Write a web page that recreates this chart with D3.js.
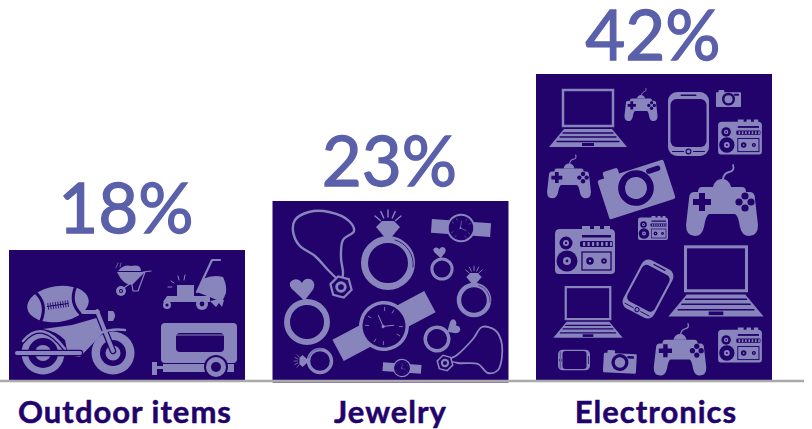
<!DOCTYPE html>
<html>
<head>
<meta charset="utf-8">
<style>
  html, body { margin: 0; padding: 0; background: #fff; }
  svg { display: block; }
</style>
<script src="https://cdn.jsdelivr.net/npm/d3@7"></script>
</head>
<body>
<svg id="chart" width="812" height="429"></svg>
<script>
// values
const categories = ["Outdoor items", "Jewelry", "Electronics"]
const shareLabels = ["18%", "23%", "42%"]
// drawn bar tops are not quite proportional to the printed shares
const barLevels = [17.84, 24.57, 42]
const barFloors = [0, -0.35, 0]

const LIGHT = "#8885bd", DARK = "#22026b", NUMBER = "#5a60aa", RULE = "#aaaaaa"

const svg = d3.select("#chart")

const x = d3.scaleBand().domain(categories).range([9, 772]).paddingInner(0.1044)
const y = d3.scaleLinear().domain([0, 42]).range([380, 74])

// bars
svg.append("g").selectAll("rect")
  .data(categories)
  .join("rect")
  .attr("x", d => x(d))
  .attr("width", x.bandwidth())
  .attr("y", (d, i) => y(barLevels[i]))
  .attr("height", (d, i) => y(barFloors[i]) - y(barLevels[i]))
  .attr("fill", DARK)

// small drawing helpers, c is the fill or stroke colour
const shape = (g, tag, attrs, c) => {
  const el = g.append(tag)
  Object.entries(attrs).forEach(([k, v]) => el.attr(k, v))
  if (!attrs.stroke && !attrs["stroke-width"]) el.attr("fill", c || LIGHT)
  else el.attr("fill", "none").attr("stroke", c || LIGHT)
  return el
}
const dot = (g, cx, cy, r, c) => shape(g, "circle", { cx, cy, r }, c)
const box = (g, x0, y0, w, h, rx, c) => shape(g, "rect", { x: x0, y: y0, width: w, height: h, rx }, c)
const path = (g, d, c) => shape(g, "path", { d }, c)
const stroke = (g, d, sw, c) => shape(g, "path", { d, "stroke-width": sw, "stroke-linecap": "round", "stroke-linejoin": "round" }, c)

const rays = (g, cx, cy, r0, r1, sw) => {
  d3.range(-50, 51, 25).forEach(a => {
    const t = (a - 90) * Math.PI / 180
    stroke(g, `M${cx + r0 * Math.cos(t)},${cy + r0 * Math.sin(t)}L${cx + r1 * Math.cos(t)},${cy + r1 * Math.sin(t)}`, sw)
  })
}

const icons = {
  football(g) {
    shape(g, "ellipse", { rx: 31, ry: 18 })
    stroke(g, "M-21,-15Q-10,-2 -19,14", 3, DARK)
    stroke(g, "M20,-15Q11,0 21,13", 3, DARK)
    stroke(g, "M-11,1H10", 1, DARK)
    d3.range(-10, 11, 2.5).forEach(t => stroke(g, `M${t},-2V4`, 0.8, DARK))
  },
  barrow(g) {
    path(g, "M-16,-8H12L-1,5Q-10,5 -16,-8Z")
    path(g, "M-15,-9Q-9,-16 -2,-14Q8,-16 8,-9Z")
    stroke(g, "M10,-8L18,-9M12,-8L5,11H0L-1,5M-2,3L-12,10", 1.2)
    stroke(g, "M-17,-12L-15,-17M-13,-13L-12,-17", 0.7)
    dot(g, -12, 11, 5)
    dot(g, -12, 11, 2, DARK)
    dot(g, -12, 11, 1)
  },
  mower(g) {
    path(g, "M4,7L10,-6Q20,-11 30,-8Q34,0 33,8L29,17L19,13Z")
    stroke(g, "M4,7L19,-25H27", 2.2)
    box(g, -16, 0, 17, 12, 0)
    path(g, "M-30,17L-26,11H17V17Z")
    dot(g, -26, 20, 4)
    dot(g, -26, 20, 1.6, DARK)
    dot(g, 9, 19, 6)
    dot(g, 9, 19, 2.4, DARK)
    stroke(g, "M-19,-2L-22,-4M-21,2L-25,2M-14,-5L-15,-9M-9,-5L-8,-10", 1)
    path(g, "M17,16L26,14L31,15L29,22L26,18L23,22Z")
  },
  motorbike(g) {
    dot(g, -33, 11, 21.5)
    dot(g, -33, 11, 15, DARK)
    dot(g, -33, 11, 8)
    dot(g, 37, 11, 21.5)
    dot(g, 37, 11, 13, DARK)
    dot(g, 37, 11, 7.5)
    stroke(g, "M-53,-1Q-34,-24 -11,7", 5, DARK)
    stroke(g, "M-53,-1Q-34,-24 -11,7", 2.5)
    path(g, "M-33,-13L-4,-17L24,-25L27,-9L4,15L-8,13L-11,-2Q-20,-11 -33,-13Z")
    stroke(g, "M-59,11H4", 6.5, DARK)
    stroke(g, "M-59,11H4", 4)
    stroke(g, "M21,-31L37,9", 6.5, DARK)
    stroke(g, "M21,-31L37,9", 4)
    stroke(g, "M7,-30H22", 4)
    stroke(g, "M24,-9Q36,-14 49,-12", 2.5)
    path(g, "M32,-31H37Q41,-27 37,-21H32Z")
  },
  trailer(g) {
    box(g, -33, -27, 76, 40, 4)
    box(g, -18, -17, 48, 19, 4, DARK)
    stroke(g, "M-18,-15H30", 1)
    box(g, -31, 14, 71, 8, 0)
    box(g, -42, 12, 5, 13, 0)
    box(g, -38, 16, 8, 3, 0)
    dot(g, 22, 17, 12, DARK)
    dot(g, 22, 17, 10)
    dot(g, 22, 17, 5, DARK)
  },
  diamondRing(g) {
    shape(g, "circle", { r: 23.5, "stroke-width": 7 })
    path(g, "M-6,-42H6L12,-36L2,-24H-2L-12,-36Z")
    stroke(g, "M7,-23A25,25 0 0 1 25,4", 0.8, DARK)
    rays(g, 0, -36, 10, 17, 1.4)
  },
  heartRing(g) {
    shape(g, "circle", { r: 23.5, "stroke-width": 7 })
    path(g, "M-3,-25L-18,-39Q-24,-47 -15,-50Q-9,-51 -6,-46Q-2,-53 5,-50Q11,-46 7,-38Z")
  },
  watch(g) {
    box(g, -52, -12, 104, 24, 0)
    dot(g, 0, 0, 25)
    dot(g, 0, 0, 21.5, DARK)
    d3.range(0, 360, 30).forEach(a => {
      if (a % 90 === 0) return
      g.append("path").attr("d", "M0,-19V-15").attr("stroke", LIGHT).attr("stroke-width", 0.8)
        .attr("transform", `rotate(${a})`)
    })
    stroke(g, "M0,-12L-1,0L9,4", 1)
    dot(g, -1, 0, 1.6)
  },
  laptop(g) {
    shape(g, "rect", { x: -25, y: -28, width: 50, height: 36, "stroke-width": 2.5 })
    path(g, "M-24,11H24L39,29H-39Z")
    stroke(g, "M-25,15H25M-28,19H28M-31,23.5H31", 1.3, DARK)
    box(g, -6, 25, 12, 3, 0, DARK)
  },
  phone(g) {
    box(g, -20.5, -32, 41, 64, 9)
    box(g, -18, -25, 36, 48, 6, DARK)
    box(g, -8, -29.5, 16, 1.5, 0.7, DARK)
    dot(g, 0, 27.5, 3, DARK)
    dot(g, 0, 27.5, 1.8)
    stroke(g, "M-16,27.5H-5M5,27.5H16", 1, DARK)
  },
  gamepad(g) {
    stroke(g, "M11,-36Q13,-30 7,-29Q2,-28 1,-22", 1.8)
    path(g, "M-9,-14Q-7,-22 0,-22Q7,-22 9,-14Z")
    path(g, "M-20,-14H20Q24,-14 24,-9H28Q33,-9 33,-2L36,24Q36,35 27,35Q20,35 18,26Q16,14 13,13H-13Q-16,14 -18,26Q-20,35 -27,35Q-36,35 -36,24L-33,-2Q-33,-9 -28,-9H-24Q-24,-14 -20,-14Z")
    path(g, "M-23,-8H-17V-2H-11V4H-17V10H-23V4H-29V-2H-23Z", DARK)
    dot(g, 23, -5, 3.6, DARK)
    dot(g, 23, 7, 3.6, DARK)
    dot(g, 17, 1, 3.6, DARK)
    dot(g, 29, 1, 3.6, DARK)
  },
  camera(g) {
    path(g, "M-33,-13Q-33,-15 -31,-15H-26V-19Q-26,-21 -24,-21H-13Q-11,-21 -11,-19V-15H31Q33,-15 33,-13V22Q33,24 31,24H-31Q-33,24 -33,22Z")
    dot(g, 0, 3, 17, DARK)
    dot(g, 0, 3, 10.5)
    box(g, 14, -11, 14, 5, 2.5, DARK)
  },
  radio(g) {
    path(g, "M-30,-16Q-30,-21 -25,-21H-3V-24H5V-21H9V-24H15V-21H19V-24H25V-21Q30,-21 30,-16V20Q30,24 26,24H-26Q-30,24 -30,20Z")
    dot(g, -19, -7, 6.5, DARK)
    dot(g, -19, -7, 3)
    dot(g, -19, -7, 1.2, DARK)
    dot(g, -18, 11, 10.5, DARK)
    dot(g, -18, 11, 4)
    dot(g, -18, 11, 1.4, DARK)
    box(g, -3, -15, 29, 2.5, 0, DARK)
    box(g, -5, -9, 33, 6, 1.5, DARK)
    d3.range(-2, 27, 4.5).forEach(t => box(g, t, -8, 2.2, 4, 0.6))
    shape(g, "rect", { x: -3, y: 2, width: 29, height: 18, "stroke-width": 1.3 }, DARK)
    dot(g, 5, 11, 3.8, DARK)
    dot(g, 5, 11, 1.2)
    dot(g, 19, 11, 2.8, DARK)
    dot(g, 19, 11, 0.9)
  }
}

function hexNut(g, r) {
  const pts = d3.range(6).map(i => {
    const t = (i * 60 + 15) * Math.PI / 180
    return [r * Math.cos(t), r * Math.sin(t)]
  })
  g.append("path").attr("d", d3.line()(pts) + "Z")
    .attr("fill", DARK).attr("stroke", LIGHT).attr("stroke-width", r * 0.2)
  dot(g, 0, 0, r * 0.52)
  dot(g, 0, 0, r * 0.26, DARK)
}

// where the pictures sit on the bars: name, x, y, scale, rotation
const iconLayout = [
  ["football", 58, 304, 1, -8],
  ["barrow", 133, 280, 1, 0],
  ["mower", 193, 285, 1, 0],
  ["motorbike", 76, 342, 1, 0],
  ["trailer", 194, 350, 1, 0],

  ["diamondRing", 388, 263, 1, 0],
  ["diamondRing", 474, 300, 0.64, 0],
  ["diamondRing", 320, 361, 0.49, -90],
  ["heartRing", 307, 322, 0.85, 0],
  ["heartRing", 442, 269, 0.43, 0],
  ["heartRing", 437, 339, 0.5, 62],
  ["watch", 384, 326, 1, -28],
  ["watch", 461, 228, 0.57, 4],
  ["watch", 402, 368, 0.37, 4],

  ["laptop", 588, 118, 1, 0],
  ["laptop", 716, 281, 1.22, 0],
  ["laptop", 588, 312, 0.89, 0],
  ["phone", 688.5, 124, 1, 0],
  ["phone", 648, 289, 0.85, 28],
  ["phone", 574, 360, 0.5, 90],
  ["gamepad", 722, 201, 1, 0],
  ["gamepad", 641, 105, 0.46, 0],
  ["gamepad", 569, 177, 0.61, 0],
  ["gamepad", 680, 350, 0.73, 0],
  ["camera", 635, 185, 1.05, -18],
  ["camera", 728.5, 98, 0.38, 0],
  ["camera", 620, 361, 0.5, 3],
  ["radio", 740, 137, 0.73, 0],
  ["radio", 585, 250, 1, 0],
  ["radio", 653, 228, 0.5, 0],
  ["radio", 740, 345, 0.73, 0]
]

const iconLayer = svg.append("g")

// necklaces go straight on the page, chain first then the nut
const chainCurve = d3.line().curve(d3.curveCatmullRomClosed.alpha(0.5))
const necklaces = [
  { at: [341, 287], r: 11, sw: 2.4, chain: [[0, -6], [2, -14], [0, -29], [2, -47], [13, -56], [8, -66], [-12, -75], [-32, -75], [-46, -67], [-48, -56], [-42, -42], [-26, -31], [-12, -16]] },
  { at: [445, 363], r: 8, sw: 1.8, chain: [[4, -3], [12, -8], [28, -24], [37, -36], [50, -33], [57, -18], [53, 7], [43, 10], [33, 1], [13, 0]] }
]
necklaces.forEach(n => {
  const g = iconLayer.append("g").attr("transform", `translate(${n.at})`)
  stroke(g, chainCurve(n.chain), n.sw)
  hexNut(g, n.r)
})

iconLayout.forEach(([name, px, py, s, r]) => {
  const g = iconLayer.append("g").attr("transform", `translate(${px},${py}) rotate(${r}) scale(${s})`)
  icons[name](g)
})

// floor rule goes over the bars
svg.append("line")
  .attr("x1", 0).attr("x2", 804)
  .attr("y1", 381).attr("y2", 381)
  .attr("stroke", RULE).attr("stroke-width", 2.4)

// big percent figures above each bar
const numberLift = [17, 15, 14]
svg.append("g").selectAll("text")
  .data(shareLabels)
  .join("text")
  .attr("x", (d, i) => x(categories[i]) + x.bandwidth() / 2 - 1)
  .attr("y", (d, i) => y(barLevels[i]) - numberLift[i])
  .attr("text-anchor", "middle")
  .attr("font-family", "Lato")
  .attr("font-size", 69)
  .attr("fill", NUMBER)
  .attr("stroke", NUMBER)
  .attr("stroke-width", 1.3)
  .text(d => d)

// category names
const labelNudge = [-2, 0, 2]
const axis = svg.append("g")
  .attr("transform", "translate(0,381)")
  .call(d3.axisBottom(x).tickSize(0).tickPadding(20))
axis.select(".domain").remove()
axis.selectAll("text")
  .attr("x", (d, i) => labelNudge[i])
  .attr("font-family", "Lato")
  .attr("font-size", 31)
  .attr("font-weight", 700)
  .attr("letter-spacing", 1)
  .attr("fill", DARK)
  .attr("stroke", DARK)
  .attr("stroke-width", 0.5)
</script>
</body>
</html>
